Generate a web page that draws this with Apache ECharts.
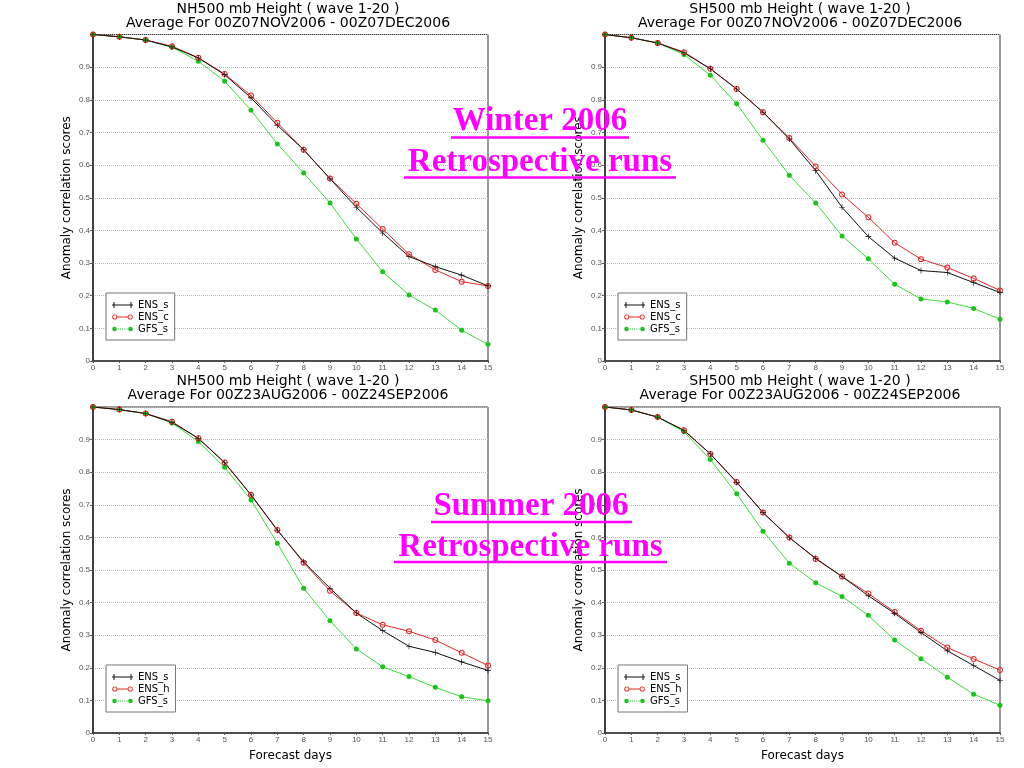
<!DOCTYPE html>
<html>
<head>
<meta charset="utf-8">
<script src="https://cdn.jsdelivr.net/npm/echarts@6/dist/echarts.min.js"></script>
<style>html,body{margin:0;padding:0;background:#fff}#c{width:1024px;height:768px}</style>
</head>
<body>
<div id="c"></div>
<script>
// ---- data ----
const days = [0,1,2,3,4,5,6,7,8,9,10,11,12,13,14,15];
const yTicks = [0,0.1,0.2,0.3,0.4,0.5,0.6,0.7,0.8,0.9,1.0];

// NH winter (00Z07NOV2006 - 00Z07DEC2006)
const nhWinterEnsS = [1.0,0.993,0.983,0.962,0.928,0.877,0.806,0.722,0.647,0.558,0.471,0.392,0.320,0.289,0.263,0.230];
const nhWinterEnsC = [1.0,0.993,0.983,0.964,0.929,0.879,0.813,0.730,0.647,0.559,0.482,0.404,0.327,0.279,0.243,0.230];
const nhWinterGfsS = [1.0,0.993,0.983,0.961,0.918,0.857,0.768,0.665,0.576,0.484,0.374,0.273,0.202,0.156,0.094,0.051];
// SH winter
const shWinterEnsS = [1.0,0.990,0.974,0.944,0.895,0.833,0.762,0.680,0.583,0.471,0.381,0.315,0.277,0.271,0.240,0.210];
const shWinterEnsC = [1.0,0.990,0.974,0.946,0.895,0.833,0.762,0.683,0.596,0.510,0.440,0.362,0.312,0.286,0.253,0.216];
const shWinterGfsS = [1.0,0.990,0.974,0.939,0.875,0.788,0.676,0.569,0.484,0.383,0.313,0.235,0.190,0.181,0.161,0.128];
// NH summer (00Z23AUG2006 - 00Z24SEP2006)
const nhSummerEnsS = [1.0,0.992,0.980,0.953,0.904,0.829,0.730,0.622,0.525,0.444,0.368,0.314,0.266,0.247,0.218,0.192];
const nhSummerEnsH = [1.0,0.992,0.980,0.955,0.904,0.830,0.731,0.623,0.522,0.436,0.368,0.332,0.312,0.285,0.246,0.207];
const nhSummerGfsS = [1.0,0.992,0.980,0.951,0.894,0.815,0.715,0.582,0.444,0.344,0.258,0.203,0.173,0.140,0.111,0.099];
// SH summer
const shSummerEnsS = [1.0,0.991,0.969,0.928,0.856,0.769,0.676,0.599,0.536,0.480,0.421,0.367,0.308,0.252,0.207,0.161];
const shSummerEnsH = [1.0,0.991,0.969,0.929,0.856,0.770,0.676,0.600,0.534,0.480,0.428,0.371,0.314,0.262,0.227,0.193];
const shSummerGfsS = [1.0,0.991,0.969,0.924,0.839,0.734,0.619,0.521,0.461,0.419,0.361,0.285,0.228,0.171,0.119,0.085];

const titles = [
  'NH500 mb Height ( wave 1-20 )\nAverage For 00Z07NOV2006 - 00Z07DEC2006',
  'SH500 mb Height ( wave 1-20 )\nAverage For 00Z07NOV2006 - 00Z07DEC2006',
  'NH500 mb Height ( wave 1-20 )\nAverage For 00Z23AUG2006 - 00Z24SEP2006',
  'SH500 mb Height ( wave 1-20 )\nAverage For 00Z23AUG2006 - 00Z24SEP2006'
];
const panelSeries = [
  [['ENS_s', nhWinterEnsS], ['ENS_c', nhWinterEnsC], ['GFS_s', nhWinterGfsS]],
  [['ENS_s', shWinterEnsS], ['ENS_c', shWinterEnsC], ['GFS_s', shWinterGfsS]],
  [['ENS_s', nhSummerEnsS], ['ENS_h', nhSummerEnsH], ['GFS_s', nhSummerGfsS]],
  [['ENS_s', shSummerEnsS], ['ENS_h', shSummerEnsH], ['GFS_s', shSummerGfsS]]
];
const yName = 'Anomaly correlation scores';
const xName = 'Forecast days';
const overlayTop = ['Winter 2006', 'Retrospective runs'];
const overlayBottom = ['Summer 2006', 'Retrospective runs'];

// ---- layout ----
const grids = [
  {left: 93, top: 34.5, width: 395, height: 326.5},
  {left: 605, top: 34.5, width: 395, height: 326.5},
  {left: 93, top: 407, width: 395, height: 326},
  {left: 605, top: 407, width: 395, height: 326}
];
const legendPos = [[106, 293], [618, 293], [106, 665], [618, 665]];
const titlePos = [[288, 2], [800, 2], [288, 374], [800, 374]];

const FONT = 'DejaVu Sans';
const BOX = 'M0,0M21,10';
const ring = cx => `M${cx-2.6},5a2.6,2.6 0 1,0 5.2,0a2.6,2.6 0 1,0 -5.2,0zM${cx-1.7},5a1.7,1.7 0 1,1 3.4,0a1.7,1.7 0 1,1 -3.4,0z`;
const dot = cx => `M${cx-2.3},5a2.3,2.3 0 1,0 4.6,0a2.3,2.3 0 1,0 -4.6,0z`;
const legendIcons = {
  'ENS_s': 'path://' + BOX + 'M0,4.5h21v1h-21zM1.5,2h1v6h-1zM18.5,2h1v6h-1z',
  'ENS_c': 'path://' + BOX + ring(2.8) + ring(18.2) + 'M5.4,4.5h10.2v1h-10.2z',
  'ENS_h': 'path://' + BOX + ring(2.8) + ring(18.2) + 'M5.4,4.5h10.2v1h-10.2z',
  'GFS_s': 'path://' + BOX + dot(2.5) + dot(18.5) + 'M5.8,4.5h1v1h-1zM8,4.5h1v1h-1zM10.2,4.5h1v1h-1zM12.4,4.5h1v1h-1zM14.6,4.5h1v1h-1z'
};
const RING_SYMBOL = 'path://M0,5a5,5 0 1,0 10,0a5,5 0 1,0 -10,0zM1.7,5a3.3,3.3 0 1,1 6.6,0a3.3,3.3 0 1,1 -6.6,0z';
const styleFor = {
  'ENS_s': {color: '#111111', line: '#111111', symbol: 'path://M0,4.45h10v1.1h-10zM4.45,0h1.1v10h-1.1z', size: 6},
  'ENS_c': {color: '#e02828', line: '#e02828', symbol: RING_SYMBOL, size: 6},
  'ENS_h': {color: '#e02828', line: '#e02828', symbol: RING_SYMBOL, size: 6},
  'GFS_s': {color: '#1fc01f', line: '#3cdc3c', symbol: 'circle', size: 5}
};

const option = {
  animation: false,
  backgroundColor: '#ffffff',
  title: titles.map((t, i) => ({
    text: t, left: titlePos[i][0], top: titlePos[i][1], textAlign: 'center', padding: 0,
    textStyle: {fontFamily: FONT, fontSize: 14, fontWeight: 'normal', lineHeight: 14, color: '#000'}
  })),
  grid: grids.map(g => Object.assign({show: true, borderColor: '#333', borderWidth: 1, containLabel: false}, g)),
  xAxis: grids.map((g, i) => ({
    type: 'value', gridIndex: i, min: 0, max: 15, interval: 1,
    name: i >= 2 ? xName : '', nameLocation: 'middle', nameGap: 17,
    nameTextStyle: {fontFamily: FONT, fontSize: 12, color: '#000'},
    axisLine: {show: true, lineStyle: {color: '#333', width: 1.5}},
    axisTick: {show: true, length: 2, inside: false, lineStyle: {color: '#555'}},
    axisLabel: {fontFamily: 'Liberation Sans', fontSize: 8, color: '#555', margin: 3},
    splitLine: {show: false}
  })),
  yAxis: grids.map((g, i) => ({
    type: 'value', gridIndex: i, min: 0, max: 1, interval: 0.1,
    name: yName, nameLocation: 'middle', nameGap: 20,
    nameTextStyle: {fontFamily: FONT, fontSize: 12, color: '#000'},
    axisLine: {show: true, lineStyle: {color: '#222', width: 1.5}},
    axisTick: {show: true, length: 3, lineStyle: {color: '#555'}},
    axisLabel: {fontFamily: 'Liberation Sans', fontSize: 8, color: '#555', margin: 3,
      formatter: v => (v === 0 ? '0' : (v > 0.95 ? '' : v.toFixed(1)))},
    splitLine: {show: true, lineStyle: {color: '#bbb', type: 'dotted', width: 1}}
  })),
  legend: panelSeries.map((ps, i) => ({
    orient: 'vertical', left: legendPos[i][0], top: legendPos[i][1],
    padding: [7, 6, 6, 6], itemGap: 2, itemWidth: 21, itemHeight: 10,
    borderColor: '#777', borderWidth: 1, backgroundColor: '#fff',
    selectedMode: false, symbolKeepAspect: false,
    itemStyle: {borderWidth: 0},
    textStyle: {fontFamily: FONT, fontSize: 10, color: '#000'},
    data: ps.map(p => ({name: p[0], icon: legendIcons[p[0]], itemStyle: {borderWidth: 0}}))
  })),
  series: [],
  graphic: []
};

panelSeries.forEach((ps, i) => {
  ps.slice().reverse().forEach(([name, vals]) => {
    const st = styleFor[name];
    option.series.push({
      type: 'line', name: name, xAxisIndex: i, yAxisIndex: i,
      data: days.map((d, k) => [d, vals[k]]),
      symbol: st.symbol, symbolSize: st.size, showAllSymbol: true,
      itemStyle: {color: st.color, borderWidth: 0},
      lineStyle: {color: st.line, width: 1},
      z: 3
    });
  });
});

// overlay annotations
const magenta = '#ff00ff';
function overlay(lines, cx, ys, ulines) {
  lines.forEach((t, k) => {
    option.graphic.push({type: 'text', x: cx[k], y: ys[k], z: 100,
      style: {text: t, fontFamily: 'Liberation Serif', fontWeight: 'bold', fontSize: 33,
        fill: magenta, align: 'center', verticalAlign: 'middle'}});
    option.graphic.push({type: 'line', z: 100,
      shape: {x1: ulines[k][0], y1: ulines[k][2], x2: ulines[k][1], y2: ulines[k][2]},
      style: {stroke: magenta, lineWidth: 2.5}});
  });
}
overlay(overlayTop, [540, 540], [121.5, 162], [[451, 629, 137.5], [404, 676, 177.5]]);
overlay(overlayBottom, [531, 530.5], [506.5, 547], [[431, 632, 522], [394, 667, 562]]);

const chart = echarts.init(document.getElementById('c'), null, {renderer: 'canvas'});
chart.setOption(option);
</script>
</body>
</html>
